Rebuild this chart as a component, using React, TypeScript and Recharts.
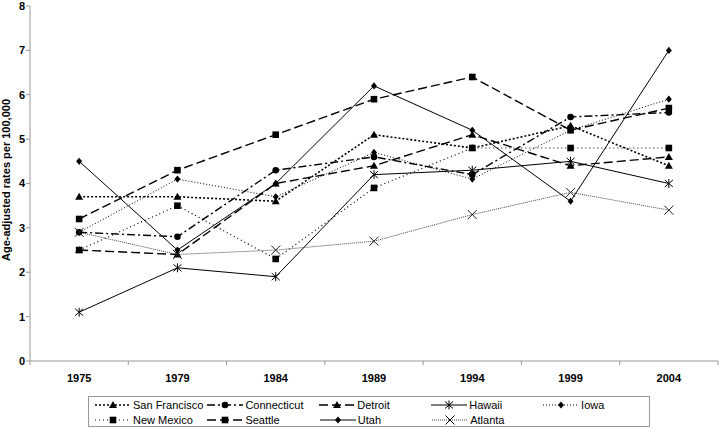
import React from 'react';
import { LineChart, Line, XAxis, YAxis } from 'recharts';

// survey years (x categories)
const years = ['1975', '1979', '1984', '1989', '1994', '1999', '2004'];
const yTicks = [0, 1, 2, 3, 4, 5, 6, 7, 8];

// age-adjusted rates per 100,000
const sanFrancisco = [3.7, 3.7, 3.6, 5.1, 4.8, 5.3, 4.4];
const connecticut = [2.9, 2.8, 4.3, 4.6, 4.2, 5.5, 5.6];
const detroit = [2.5, 2.4, 4.0, 4.4, 5.1, 4.4, 4.6];
const hawaii = [1.1, 2.1, 1.9, 4.2, 4.3, 4.5, 4.0];
const iowa = [2.9, 4.1, 3.7, 4.7, 4.1, 5.2, 5.9];
const newMexico = [2.5, 3.5, 2.3, 3.9, 4.8, 4.8, 4.8];
const seattle = [3.2, 4.3, 5.1, 5.9, 6.4, 5.2, 5.7];
const utah = [4.5, 2.5, 4.0, 6.2, 5.2, 3.6, 7.0];
const atlanta = [2.9, 2.4, 2.5, 2.7, 3.3, 3.8, 3.4];

type Kind = 'triangle' | 'circle' | 'square' | 'diamond' | 'asterisk' | 'cross';

const series = [
  { key: 'sf', name: 'San Francisco', values: sanFrancisco, kind: 'triangle' as Kind, dash: '2 2', width: 1.6, color: '#000' },
  { key: 'ct', name: 'Connecticut', values: connecticut, kind: 'circle' as Kind, dash: '8 3 2 3', width: 1.4, color: '#000' },
  { key: 'de', name: 'Detroit', values: detroit, kind: 'triangle' as Kind, dash: '9 4', width: 1.4, color: '#000' },
  { key: 'hi', name: 'Hawaii', values: hawaii, kind: 'asterisk' as Kind, dash: undefined, width: 1, color: '#000' },
  { key: 'ia', name: 'Iowa', values: iowa, kind: 'diamond' as Kind, dash: '1 2', width: 1, color: '#000' },
  { key: 'nm', name: 'New Mexico', values: newMexico, kind: 'square' as Kind, dash: '1 3', width: 1.2, color: '#000' },
  { key: 'se', name: 'Seattle', values: seattle, kind: 'square' as Kind, dash: '9 4', width: 1.4, color: '#000' },
  { key: 'ut', name: 'Utah', values: utah, kind: 'diamond' as Kind, dash: undefined, width: 1, color: '#000' },
  { key: 'at', name: 'Atlanta', values: atlanta, kind: 'cross' as Kind, dash: '1 1', width: 1, color: '#444' },
];

const data = years.map((y, i) => {
  const row: any = { idx: i, year: y };
  series.forEach((s) => { row[s.key] = s.values[i]; });
  return row;
});

const FONT = '"Liberation Sans", Arial, sans-serif';

function marker(kind: Kind, cx: number, cy: number, color: string, key?: string) {
  switch (kind) {
    case 'triangle':
      return <path key={key} d={`M${cx},${cy - 4}L${cx + 4},${cy + 3}L${cx - 4},${cy + 3}Z`} fill={color} />;
    case 'circle':
      return <circle key={key} cx={cx} cy={cy} r={3.3} fill={color} />;
    case 'square':
      return <rect key={key} x={cx - 3.3} y={cy - 3.3} width={6.6} height={6.6} fill={color} />;
    case 'diamond':
      return <path key={key} d={`M${cx},${cy - 3.6}L${cx + 3},${cy}L${cx},${cy + 3.6}L${cx - 3},${cy}Z`} fill={color} />;
    case 'asterisk':
      return (
        <g key={key} stroke={color} strokeWidth={1}>
          <line x1={cx - 4} y1={cy - 3.5} x2={cx + 4} y2={cy + 3.5} />
          <line x1={cx - 4} y1={cy + 3.5} x2={cx + 4} y2={cy - 3.5} />
          <line x1={cx} y1={cy - 4.5} x2={cx} y2={cy + 4.5} />
        </g>
      );
    case 'cross':
      return (
        <g key={key} stroke={color} strokeWidth={1}>
          <line x1={cx - 4.5} y1={cy - 4.5} x2={cx + 4.5} y2={cy + 4.5} />
          <line x1={cx - 4.5} y1={cy + 4.5} x2={cx + 4.5} y2={cy - 4.5} />
        </g>
      );
  }
  return null;
}

const dotFor = (s: typeof series[number]) => (p: any) =>
  marker(s.kind, p.cx, p.cy, s.kind === 'cross' ? '#222' : '#000', `${s.key}-${p.index}`);

const legendRows = [
  ['sf', 'ct', 'de', 'hi', 'ia'],
  ['nm', 'se', 'ut', 'at'],
];

function LegendBox() {
  return (
    <div
      style={{
        position: 'absolute', left: 88, top: 396, width: 562, height: 31,
        border: '1px solid #999', boxSizing: 'border-box',
        fontFamily: FONT, fontSize: 11, color: '#000',
      }}
    >
      {legendRows.map((row, r) => (
        <div key={r} style={{ display: 'flex', height: 14.5, marginTop: r === 0 ? 1 : 0 }}>
          {row.map((k) => {
            const s = series.find((x) => x.key === k)!;
            return (
              <div key={k} style={{ width: 112.4, display: 'flex', alignItems: 'center', paddingLeft: 6, boxSizing: 'border-box' }}>
                <svg width={36} height={12} style={{ flex: 'none' }}>
                  <line x1={0} y1={6} x2={36} y2={6} stroke={s.color} strokeWidth={s.width} strokeDasharray={s.dash} />
                  {marker(s.kind, 18, 6, '#000')}
                </svg>
                <span style={{ marginLeft: 2, whiteSpace: 'nowrap' }}>{s.name}</span>
              </div>
            );
          })}
        </div>
      ))}
    </div>
  );
}

const boundaryTicks = [-0.5, 0.5, 1.5, 2.5, 3.5, 4.5, 5.5, 6.5];
const centerTicks = [0, 1, 2, 3, 4, 5, 6];

export default function App() {
  return (
    <div style={{ position: 'absolute', left: 0, top: 0, width: 719, height: 429, background: '#fff' }}>
      <LineChart width={719} height={429} data={data} margin={{ top: 6, right: 1, bottom: 38, left: 0 }}>
        <XAxis
          type="number"
          dataKey="idx"
          domain={[-0.5, 6.5]}
          ticks={boundaryTicks}
          interval={0}
          tickFormatter={() => ''}
          height={5}
          tickSize={4}
          axisLine={{ stroke: '#999' }}
          tickLine={{ stroke: '#999' }}
          allowDataOverflow
        />
        <XAxis
          xAxisId="lbl"
          type="number"
          dataKey="idx"
          domain={[-0.5, 6.5]}
          ticks={centerTicks}
          interval={0}
          tickFormatter={(v: number) => years[v]}
          height={25}
          axisLine={false}
          tickLine={false}
          tick={{ fontFamily: FONT, fontSize: 11, fontWeight: 'bold', fill: '#000' }}
          allowDataOverflow
        />
        <YAxis
          domain={[0, 8]}
          ticks={yTicks}
          interval={0}
          width={30}
          tickSize={4}
          tickMargin={1}
          axisLine={{ stroke: '#999' }}
          tickLine={{ stroke: '#999' }}
          tick={{ fontFamily: FONT, fontSize: 11, fontWeight: 'bold', fill: '#000' }}
          label={{
            content: () => (
              <text
                transform="translate(10,180) rotate(-90)"
                textAnchor="middle"
                fontFamily={FONT}
                fontSize={11}
                fontWeight="bold"
                fill="#000"
              >
                Age-adjusted rates per 100,000
              </text>
            ),
          }}
        />
        {series.map((s) => (
          <Line
            key={s.key}
            type="linear"
            dataKey={s.key}
            name={s.name}
            stroke={s.color}
            strokeWidth={s.width}
            strokeDasharray={s.dash}
            dot={dotFor(s)}
            activeDot={false}
            isAnimationActive={false}
          />
        ))}
      </LineChart>
      <LegendBox />
    </div>
  );
}
